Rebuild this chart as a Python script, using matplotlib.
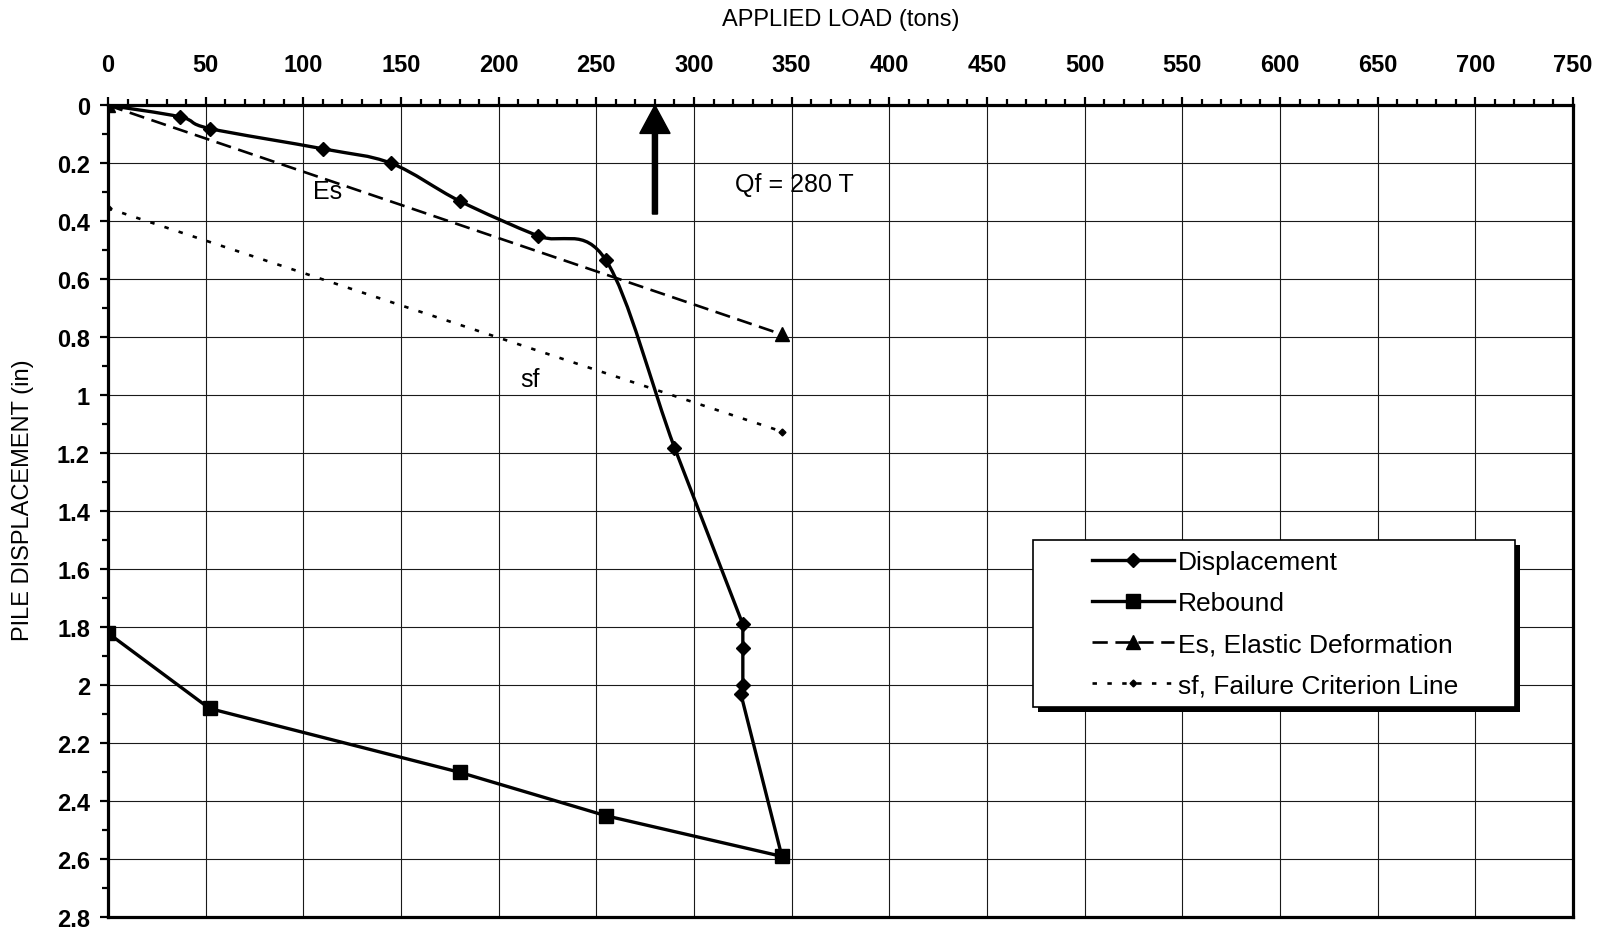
#!/usr/bin/env python3
"""Pile load test: applied load vs pile displacement with failure criterion."""

import matplotlib
matplotlib.use("Agg")
import matplotlib.pyplot as plt
import numpy as np
from matplotlib import transforms
from matplotlib.lines import Line2D
from matplotlib.patches import PathPatch, Rectangle
from matplotlib.path import Path
from matplotlib.ticker import FuncFormatter, MultipleLocator

# readings off the load test (tons / inches)
DISP_LOAD = [0, 37, 52, 110, 145, 180, 220, 255, 290, 325, 325, 325, 324, 345]
DISP_IN = [0.0, 0.04, 0.08, 0.15, 0.20, 0.33, 0.45, 0.535, 1.18, 1.79, 1.87, 2.00, 2.03, 2.59]

REBOUND_LOAD = [0, 52, 180, 255, 345]
REBOUND_IN = [1.82, 2.08, 2.30, 2.45, 2.59]

ES_LOAD = [0, 345]
ES_IN = [0.0, 0.79]

SF_LOAD = [0, 345]
SF_IN = [0.355, 1.125]

QF_LOAD = 280

LEGEND_LABELS = [
    "Displacement",
    "Rebound",
    "Es, Elastic Deformation",
    "sf, Failure Criterion Line",
]

plt.rcParams["font.family"] = ["Liberation Sans", "DejaVu Sans"]
plt.rcParams["lines.scale_dashes"] = False

ES_DASH = (0, (11, 5.5))
SF_DOT = (0, (3.2, 7.5))


def smooth_path(xs, ys, n_curved):
    """Excel-like smoothed line on the first n_curved segments, straight after."""
    pts = np.column_stack([xs, ys]).astype(float)
    verts, codes = [pts[0]], [Path.MOVETO]
    for i in range(len(pts) - 1):
        p1, p2 = pts[i], pts[i + 1]
        if i < n_curved:
            p0 = pts[max(i - 1, 0)]
            p3 = pts[min(i + 2, len(pts) - 1)]
            verts += [p1 + (p2 - p0) / 6, p2 - (p3 - p1) / 6, p2]
            codes += [Path.CURVE4] * 3
        else:
            verts.append(p2)
            codes.append(Path.LINETO)
    return Path(verts, codes)


def main() -> None:
    fig = plt.figure(figsize=(16.13, 9.37), dpi=100)
    ax = fig.add_axes([0.06696, 0.01996, 0.90824, 0.86659])

    ax.set_xlim(0, 750)
    ax.set_ylim(2.8, 0)

    # axes / ticks
    ax.xaxis.tick_top()
    ax.xaxis.set_major_locator(MultipleLocator(50))
    ax.xaxis.set_minor_locator(MultipleLocator(10))
    ax.yaxis.set_major_locator(MultipleLocator(0.2))
    ax.yaxis.set_minor_locator(MultipleLocator(0.1))
    ax.yaxis.set_major_formatter(FuncFormatter(lambda v, _: f"{round(v, 2):g}"))
    ax.tick_params(axis="x", which="both", direction="out", top=True, bottom=False,
                   labeltop=True, labelbottom=False, width=1.6, color="black")
    ax.tick_params(axis="x", which="major", length=6, pad=15, labelsize=17)
    ax.tick_params(axis="x", which="minor", length=4.5)
    ax.tick_params(axis="y", which="both", direction="out", left=True, right=False, width=1.6)
    ax.tick_params(axis="y", which="major", length=6, pad=7, labelsize=17)
    ax.tick_params(axis="y", which="minor", length=4.5)
    for lab in ax.get_xticklabels() + ax.get_yticklabels():
        lab.set_fontweight("bold")
    for sp in ax.spines.values():
        sp.set_linewidth(2.3)
        sp.set_zorder(6)

    ax.grid(True, which="major", color="#1a1a1a", linewidth=0.8)
    ax.set_axisbelow(True)

    ax.set_xlabel("APPLIED LOAD (tons)", fontsize=17)
    ax.xaxis.set_label_position("top")
    ax.xaxis.set_label_coords(0.5, 1.1057)
    ax.xaxis.label.set_va("center")
    ax.set_ylabel("PILE DISPLACEMENT (in)", fontsize=17)
    ax.yaxis.set_label_coords(-0.058, 0.515)
    ax.yaxis.label.set_va("center")

    # series
    ax.add_patch(PathPatch(smooth_path(DISP_LOAD, DISP_IN, 8), fill=False,
                           edgecolor="black", linewidth=2.4, zorder=3, capstyle="round"))
    ax.plot(DISP_LOAD, DISP_IN, linestyle="none", marker="D", markersize=7,
            color="black", zorder=4)
    ax.plot(REBOUND_LOAD, REBOUND_IN, color="black", linewidth=2.4, marker="s",
            markersize=9.5, zorder=4)
    ax.plot(ES_LOAD, ES_IN, color="black", linewidth=1.9, linestyle=ES_DASH,
            marker="^", markersize=10, zorder=3)
    ax.plot(SF_LOAD, SF_IN, color="black", linewidth=1.9, linestyle=SF_DOT,
            marker="D", markersize=3.5, zorder=3)

    # Qf arrow + labels
    ax.arrow(QF_LOAD, 0.375, 0, -0.375, width=2.6, head_width=15.5, head_length=0.097,
             length_includes_head=True, fc="black", ec="black", zorder=5, clip_on=False)
    ax.text(321, 0.271, f"Qf = {QF_LOAD} T", fontsize=18, ha="left", va="center")
    ax.text(112.6, 0.294, "Es", fontsize=18, ha="center", va="center")
    ax.text(216, 0.945, "sf", fontsize=18, ha="center", va="center")

    # legend box with hard black shadow
    x0, y0, w, h = 0.6314, 0.2590, 0.3290, 0.2057
    shadow_tr = transforms.offset_copy(ax.transAxes, fig=fig, x=5, y=-5, units="dots")
    ax.add_patch(Rectangle((x0, y0), w, h, transform=shadow_tr, facecolor="black",
                           edgecolor="none", zorder=7, clip_on=False))
    ax.add_patch(Rectangle((x0, y0), w, h, transform=ax.transAxes, facecolor="white",
                           edgecolor="black", linewidth=1.2, zorder=8, clip_on=False))
    handles = [
        Line2D([], [], color="black", linewidth=2.4, marker="D", markersize=7),
        Line2D([], [], color="black", linewidth=2.4, marker="s", markersize=9.5),
        Line2D([], [], color="black", linewidth=1.9, linestyle=ES_DASH, marker="^", markersize=10),
        Line2D([], [], color="black", linewidth=1.9, linestyle=SF_DOT, marker="D", markersize=3.5),
    ]
    leg = ax.legend(handles, LEGEND_LABELS, loc="center left", bbox_to_anchor=(0.6715, 0.3615),
                    frameon=False, fontsize=19, numpoints=1, handlelength=3.1,
                    handletextpad=0.15, labelspacing=0.64, borderpad=0, borderaxespad=0)
    leg.set_zorder(9)

    fig.savefig("out.png", dpi=100)
    plt.close(fig)


if __name__ == "__main__":
    main()
